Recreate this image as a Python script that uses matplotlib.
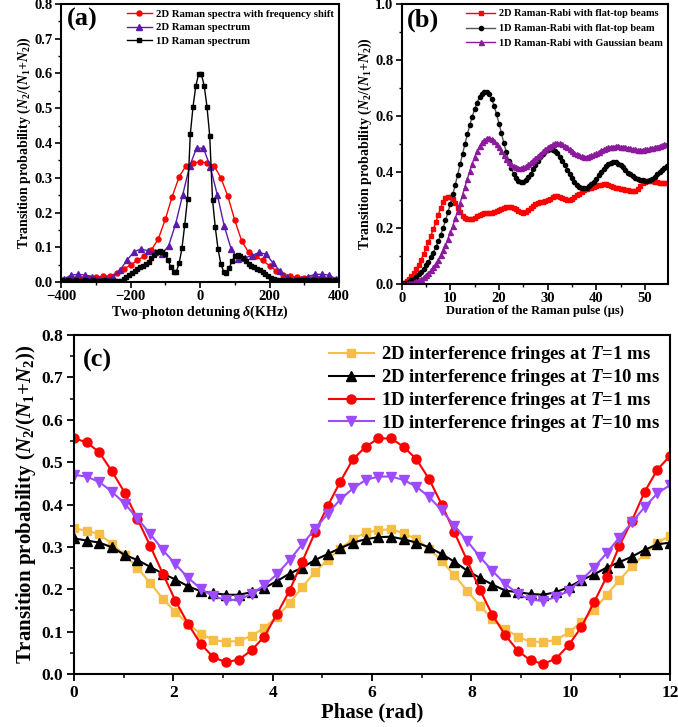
import numpy as np
import matplotlib
matplotlib.use("Agg")
import matplotlib.pyplot as plt
from matplotlib.ticker import MultipleLocator

plt.rcParams['font.family'] = ['Liberation Serif', 'DejaVu Serif']
plt.rcParams['font.weight'] = 'bold'
plt.rcParams['axes.labelweight'] = 'bold'
plt.rcParams['mathtext.fontset'] = 'custom'
plt.rcParams['mathtext.rm'] = 'Liberation Serif:bold'
plt.rcParams['mathtext.it'] = 'Liberation Serif:italic:bold'
plt.rcParams['mathtext.bf'] = 'Liberation Serif:bold'
plt.rcParams['axes.linewidth'] = 1.5

# ---------------- (a) Raman spectra ----------------
det_red = np.arange(-400, 401, 20)
p_red = [0.006, 0.007, 0.008, 0.009, 0.011, 0.014, 0.016, 0.018, 0.025, 0.037,
         0.049, 0.062, 0.075, 0.092, 0.124, 0.180, 0.246, 0.303, 0.335, 0.343,
         0.345, 0.343, 0.335, 0.300, 0.247, 0.178, 0.118, 0.085, 0.074, 0.062,
         0.047, 0.032, 0.020, 0.016, 0.014, 0.012, 0.010, 0.008, 0.007, 0.006, 0.005]

det_2d = np.arange(-390, 391, 20)
p_2d = [0.010, 0.020, 0.022, 0.020, 0.015, 0.010, 0.008, 0.015, 0.035, 0.063,
        0.087, 0.095, 0.090, 0.085, 0.080, 0.105, 0.168, 0.250, 0.333, 0.385,
        0.385, 0.330, 0.250, 0.160, 0.094, 0.066, 0.070, 0.076, 0.085, 0.080,
        0.055, 0.032, 0.013, 0.007, 0.008, 0.015, 0.022, 0.022, 0.020, 0.010]

det_1d = np.arange(-396, 397, 8)
p_1d = [0.005, 0.004, 0.005, 0.004, 0.004, 0.005, 0.004, 0.004, 0.005, 0.004,
        0.004, 0.005, 0.004, 0.004, 0.004, 0.005, 0.004, 0.004, 0.004, 0.003,
        0.003, 0.004,
        0.008, 0.013, 0.020, 0.025, 0.032, 0.037, 0.042, 0.046, 0.052, 0.059,
        0.068, 0.078, 0.087, 0.089, 0.087, 0.080, 0.063, 0.042, 0.030, 0.030,
        0.054, 0.097, 0.164, 0.240, 0.425, 0.505, 0.565, 0.598, 0.598, 0.565,
        0.505, 0.420, 0.237, 0.157, 0.094, 0.052, 0.030, 0.025, 0.040, 0.060,
        0.074, 0.078, 0.076, 0.070, 0.060, 0.052, 0.046, 0.042, 0.038, 0.035,
        0.030, 0.024, 0.018, 0.012, 0.008, 0.006,
        0.005, 0.005, 0.004, 0.005, 0.005, 0.004, 0.005, 0.005, 0.004, 0.005,
        0.005, 0.004, 0.005, 0.005, 0.004, 0.005, 0.004, 0.005, 0.005, 0.004,
        0.005, 0.005]

# ---------------- (b) Raman-Rabi ----------------
t_pulse = np.arange(0, 54.6, 0.5)
rabi_2d_flat = [0.000, 0.003, 0.009, 0.017, 0.027, 0.039, 0.053, 0.069, 0.087, 0.107,
                0.128, 0.150, 0.173, 0.196, 0.220, 0.246, 0.272, 0.293, 0.306, 0.311,
                0.310, 0.303, 0.290, 0.273, 0.256, 0.243, 0.236, 0.232, 0.231, 0.233,
                0.237, 0.242, 0.247, 0.250, 0.252, 0.253, 0.253, 0.254, 0.256, 0.259,
                0.263, 0.267, 0.271, 0.274, 0.276, 0.276, 0.273, 0.268, 0.262, 0.257,
                0.255, 0.257, 0.263, 0.271, 0.279, 0.285, 0.289, 0.292, 0.294, 0.297,
                0.301, 0.305, 0.310, 0.313, 0.314, 0.311, 0.306, 0.302, 0.300, 0.300,
                0.303, 0.309, 0.316, 0.323, 0.329, 0.334, 0.338, 0.341, 0.344, 0.346,
                0.349, 0.352, 0.355, 0.357, 0.357, 0.355, 0.351, 0.347, 0.344, 0.342,
                0.340, 0.338, 0.336, 0.334, 0.332, 0.331, 0.333, 0.340, 0.350, 0.359,
                0.365, 0.367, 0.367, 0.366, 0.364, 0.363, 0.362, 0.361, 0.360, 0.359]
rabi_1d_flat = [0.000, 0.002, 0.004, 0.008, 0.013, 0.019, 0.026, 0.034, 0.043, 0.054,
                0.066, 0.080, 0.095, 0.112, 0.131, 0.152, 0.175, 0.200, 0.227, 0.256,
                0.287, 0.320, 0.354, 0.390, 0.427, 0.464, 0.500, 0.535, 0.568, 0.598,
                0.625, 0.648, 0.667, 0.680, 0.687, 0.686, 0.677, 0.660, 0.636, 0.606,
                0.573, 0.538, 0.503, 0.470, 0.440, 0.414, 0.393, 0.378, 0.368, 0.364,
                0.365, 0.371, 0.381, 0.394, 0.409, 0.425, 0.440, 0.454, 0.466, 0.474,
                0.479, 0.481, 0.480, 0.475, 0.467, 0.455, 0.441, 0.425, 0.408, 0.392,
                0.377, 0.364, 0.354, 0.347, 0.343, 0.342, 0.344, 0.349, 0.356, 0.365,
                0.376, 0.388, 0.400, 0.411, 0.421, 0.428, 0.433, 0.435, 0.434, 0.430,
                0.424, 0.416, 0.407, 0.398, 0.392, 0.385, 0.379, 0.375, 0.373, 0.370,
                0.369, 0.369, 0.371, 0.376, 0.383, 0.391, 0.399, 0.407, 0.414, 0.420]
rabi_1d_gauss = [0.000, 0.000, 0.001, 0.002, 0.004, 0.006, 0.009, 0.013, 0.018, 0.024,
                 0.031, 0.039, 0.049, 0.060, 0.073, 0.087, 0.103, 0.121, 0.140, 0.161,
                 0.184, 0.208, 0.234, 0.261, 0.289, 0.318, 0.347, 0.376, 0.404, 0.430,
                 0.454, 0.475, 0.492, 0.506, 0.515, 0.520, 0.521, 0.518, 0.511, 0.501,
                 0.489, 0.475, 0.461, 0.448, 0.437, 0.428, 0.421, 0.417, 0.415, 0.415,
                 0.417, 0.421, 0.427, 0.434, 0.442, 0.450, 0.458, 0.466, 0.474, 0.481,
                 0.488, 0.494, 0.499, 0.502, 0.503, 0.502, 0.499, 0.494, 0.488, 0.481,
                 0.474, 0.468, 0.463, 0.459, 0.456, 0.455, 0.455, 0.456, 0.459, 0.463,
                 0.467, 0.472, 0.477, 0.481, 0.485, 0.488, 0.490, 0.491, 0.492, 0.492,
                 0.491, 0.490, 0.488, 0.486, 0.484, 0.482, 0.481, 0.480, 0.480, 0.480,
                 0.481, 0.482, 0.484, 0.486, 0.489, 0.491, 0.494, 0.496, 0.499, 0.500]

# ---------------- (c) interference fringes ----------------
phase = np.linspace(0, 12, 48)
fr_2d_1ms = [0.344, 0.338, 0.330, 0.307, 0.281, 0.251, 0.215, 0.178, 0.146, 0.118,
             0.095, 0.080, 0.076, 0.078, 0.090, 0.109, 0.135, 0.167, 0.205, 0.241,
             0.269, 0.296, 0.318, 0.334, 0.339, 0.342, 0.332, 0.318, 0.296, 0.267,
             0.233, 0.197, 0.161, 0.130, 0.106, 0.088, 0.076, 0.076, 0.080, 0.098,
             0.122, 0.150, 0.187, 0.221, 0.255, 0.283, 0.310, 0.326]
fr_2d_10ms = [0.320, 0.315, 0.310, 0.299, 0.281, 0.269, 0.253, 0.237, 0.223, 0.207,
              0.195, 0.191, 0.187, 0.187, 0.193, 0.203, 0.219, 0.237, 0.251, 0.269,
              0.283, 0.297, 0.310, 0.318, 0.323, 0.324, 0.318, 0.310, 0.299, 0.283,
              0.265, 0.244, 0.227, 0.211, 0.197, 0.193, 0.189, 0.187, 0.193, 0.205,
              0.221, 0.235, 0.251, 0.264, 0.277, 0.293, 0.306, 0.310]
fr_1d_1ms = [0.556, 0.547, 0.523, 0.478, 0.428, 0.366, 0.303, 0.237, 0.173, 0.118,
             0.071, 0.039, 0.028, 0.034, 0.056, 0.088, 0.141, 0.197, 0.265, 0.334,
             0.396, 0.454, 0.507, 0.536, 0.556, 0.556, 0.536, 0.507, 0.460, 0.400,
             0.334, 0.268, 0.199, 0.139, 0.092, 0.055, 0.032, 0.024, 0.036, 0.068,
             0.110, 0.169, 0.229, 0.302, 0.362, 0.430, 0.482, 0.515]
fr_1d_10ms = [0.470, 0.466, 0.453, 0.430, 0.402, 0.367, 0.331, 0.293, 0.259, 0.227,
              0.201, 0.183, 0.175, 0.175, 0.189, 0.209, 0.235, 0.269, 0.306, 0.342,
              0.378, 0.412, 0.438, 0.458, 0.466, 0.466, 0.458, 0.442, 0.418, 0.386,
              0.350, 0.314, 0.277, 0.243, 0.213, 0.189, 0.175, 0.173, 0.181, 0.197,
              0.221, 0.251, 0.285, 0.322, 0.358, 0.394, 0.426, 0.446]

ylab = r'Transition probability ($N_2$/($N_1$+$N_2$))'

fig = plt.figure(figsize=(6.78, 7.27), dpi=100)

# panel (a)
ax1 = fig.add_axes([0.0900, 0.6121, 0.4100, 0.3824])
ax1.plot(det_red, p_red, '-o', color='#FF0000', ms=3.6, lw=1.0,
         label='2D Raman spectra with frequency shift')
ax1.plot(det_2d, p_2d, '-^', color='#5A1AAA', ms=4.5, lw=1.0,
         label='2D Raman spectrum')
ax1.plot(det_1d, p_1d, '-s', color='black', ms=3.0, lw=1.0,
         label='1D Raman spectrum')
ax1.set_xlim(-400, 400)
ax1.set_ylim(0, 0.8)
ax1.xaxis.set_major_locator(MultipleLocator(200))
ax1.xaxis.set_minor_locator(MultipleLocator(100))
ax1.yaxis.set_major_locator(MultipleLocator(0.1))
ax1.yaxis.set_minor_locator(MultipleLocator(0.05))
ax1.set_xlabel(r'Two-photon detuning $\delta$(KHz)', fontsize=10, labelpad=0)
ax1.set_ylabel(ylab, fontsize=10, labelpad=1)
ax1.legend(loc='upper right', frameon=False, fontsize=7.7, handlelength=2.3,
           borderaxespad=0.1, labelspacing=0.38, handletextpad=0.4)
ax1.text(0.02, 0.985, '(a)', transform=ax1.transAxes, fontsize=19,
         fontweight='bold', va='top')

# panel (b)
ax2 = fig.add_axes([0.5925, 0.6094, 0.3932, 0.3851])
ax2.plot(t_pulse, rabi_2d_flat, '-s', color='#FF0000', ms=2.6, lw=1.0,
         label='2D Raman-Rabi with flat-top beams')
ax2.plot(t_pulse, rabi_1d_flat, '-o', color='#555555', ms=3.0, lw=1.0,
         mfc='black', mec='black', label='1D Raman-Rabi with flat-top beam')
ax2.plot(t_pulse, rabi_1d_gauss, '-^', color='#8B1A9C', ms=3.6, lw=1.0,
         label='1D Raman-Rabi with Gaussian beam')
ax2.set_xlim(0, 54.8)
ax2.set_ylim(0, 1.0)
ax2.xaxis.set_major_locator(MultipleLocator(10))
ax2.xaxis.set_minor_locator(MultipleLocator(5))
ax2.yaxis.set_major_locator(MultipleLocator(0.2))
ax2.yaxis.set_minor_locator(MultipleLocator(0.1))
ax2.set_xlabel('Duration of the Raman pulse (μs)', fontsize=9, labelpad=0)
ax2.set_ylabel(ylab, fontsize=10, labelpad=1)
ax2.legend(loc='upper right', frameon=False, fontsize=7.4, handlelength=2.8,
           borderaxespad=0.1, labelspacing=0.55, handletextpad=0.4)
ax2.text(0.02, 0.985, '(b)', transform=ax2.transAxes, fontsize=19,
         fontweight='bold', va='top')

for ax in (ax1, ax2):
    ax.tick_params(axis='both', which='major', labelsize=10.5, length=4, width=1.2, pad=2)
    ax.tick_params(axis='both', which='minor', length=2, width=1.0)

# panel (c)
ax3 = fig.add_axes([0.1091, 0.0729, 0.8791, 0.4663])
ax3.plot(phase, fr_2d_1ms, '-s', color='#F7BE45', ms=6, lw=1.5,
         label=r'2D interference fringes at $T$=1 ms')
ax3.plot(phase, fr_2d_10ms, '-^', color='black', ms=6.5, lw=1.5,
         label=r'2D interference fringes at $T$=10 ms')
ax3.plot(phase, fr_1d_1ms, '-o', color='#FF0000', ms=6.5, lw=1.5,
         label=r'1D interference fringes at $T$=1 ms')
ax3.plot(phase, fr_1d_10ms, '-v', color='#9D4BFF', ms=6.5, lw=1.5,
         label=r'1D interference fringes at $T$=10 ms')
ax3.set_xlim(0, 12)
ax3.set_ylim(0, 0.8)
ax3.xaxis.set_major_locator(MultipleLocator(2))
ax3.xaxis.set_minor_locator(MultipleLocator(1))
ax3.yaxis.set_major_locator(MultipleLocator(0.1))
ax3.yaxis.set_minor_locator(MultipleLocator(0.05))
ax3.tick_params(axis='both', which='major', labelsize=12.5, length=5, width=1.3, pad=3)
ax3.tick_params(axis='both', which='minor', length=3, width=1.1)
ax3.set_xlabel('Phase (rad)', fontsize=15, labelpad=1)
ax3.set_ylabel(ylab, fontsize=15, labelpad=2)
ax3.legend(loc='upper right', frameon=False, fontsize=13.5, handlelength=2.4,
           borderaxespad=0.1, labelspacing=0.1, handletextpad=0.4)
ax3.text(0.015, 0.96, '(c)', transform=ax3.transAxes, fontsize=19,
         fontweight='bold', va='top')

fig.savefig('out.png', dpi=100)
